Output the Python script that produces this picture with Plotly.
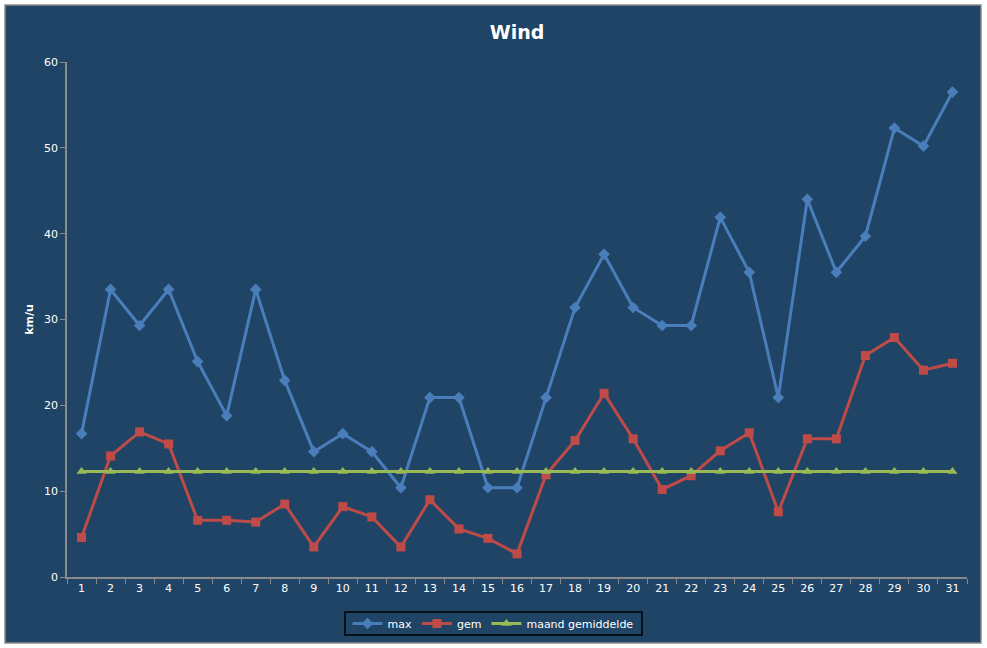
import plotly.graph_objects as go

# Data
days = [str(d) for d in range(1, 32)]
wind_max = [16.7, 33.5, 29.3, 33.5, 25.1, 18.8, 33.5, 22.9, 14.6, 16.7,
            14.6, 10.4, 20.9, 20.9, 10.4, 10.4, 20.9, 31.4, 37.6, 31.4,
            29.3, 29.3, 41.9, 35.5, 20.9, 44.0, 35.5, 39.7, 52.3, 50.2, 56.5]
wind_gem = [4.6, 14.1, 16.9, 15.5, 6.6, 6.6, 6.4, 8.5, 3.5, 8.2,
            7.0, 3.5, 9.0, 5.6, 4.5, 2.7, 11.9, 15.9, 21.4, 16.1,
            10.2, 11.8, 14.7, 16.8, 7.6, 16.1, 16.1, 25.8, 27.9, 24.1, 24.9]
maand_gem = [12.3] * 31

BG = "#1F4466"
W, H = 987, 648
L, R, T, B = 67, 20, 62, 71

fig = go.Figure()
fig.add_trace(go.Scatter(
    x=days, y=wind_max, name="max", mode="lines+markers",
    line=dict(color="#4A7EBB", width=3),
    marker=dict(symbol="diamond", size=9, color="#4A7EBB"),
))
fig.add_trace(go.Scatter(
    x=days, y=wind_gem, name="gem", mode="lines+markers",
    line=dict(color="#BE4B48", width=3),
    marker=dict(symbol="square", size=9, color="#BE4B48"),
))
fig.add_trace(go.Scatter(
    x=days, y=maand_gem, name="maand gemiddelde", mode="lines+markers",
    line=dict(color="#98B954", width=3),
    marker=dict(symbol="triangle-up", size=9, color="#98B954"),
))

# helpers: figure pixels -> paper coords
pw, ph = W - L - R, H - T - B
def px(x):
    return (x - L) / pw
def py(y):
    return (H - B - y) / ph

# chart area frame
fig.add_shape(
    type="rect", xref="paper", yref="paper", layer="below",
    x0=px(5), x1=px(981), y0=py(643), y1=py(5),
    fillcolor=BG, line=dict(color="#8A8A8A", width=1.5),
)
# legend box
fig.add_shape(
    type="rect", xref="paper", yref="paper", layer="below",
    x0=px(345), x1=px(642), y0=py(635), y1=py(612),
    line=dict(color="black", width=1.5),
)

fig.update_layout(
    width=W, height=H,
    margin=dict(l=L, r=R, t=T, b=B, autoexpand=False),
    paper_bgcolor="white",
    plot_bgcolor=BG,
    font=dict(family="DejaVu Sans", color="white", size=11),
    title=dict(text="<b>Wind</b>", x=0.5, xref="paper", y=0.95, yanchor="middle",
               font=dict(size=19, family="DejaVu Sans", color="white")),
    xaxis=dict(
        type="category", range=[-0.5, 30.5], showgrid=False, zeroline=False,
        showline=True, linecolor="#8A8A8A", linewidth=1.5, automargin=False,
        ticks="outside", tickson="boundaries", ticklen=5, tickcolor="#8A8A8A",
        tickfont=dict(size=11, color="white"),
    ),
    yaxis=dict(
        range=[0, 60], dtick=10, showgrid=False, zeroline=False,
        showline=True, linecolor="#8A8A8A", linewidth=1.5, automargin=False,
        ticks="outside", ticklen=5, tickcolor="#8A8A8A",
        tickfont=dict(size=11, color="white"),
        title=dict(text="<b>km/u</b>", font=dict(size=11, color="white"), standoff=8),
    ),
    legend=dict(
        orientation="h", xref="container", x=493 / W, xanchor="center",
        yref="container", y=1 - 623.5 / H, yanchor="middle",
        bgcolor="rgba(0,0,0,0)", borderwidth=0,
        font=dict(size=11, color="white"), itemwidth=30,
    ),
    showlegend=True,
)

fig.write_html("out.html", config={"displayModeBar": False},
               post_script="document.body.style.margin='0';")
